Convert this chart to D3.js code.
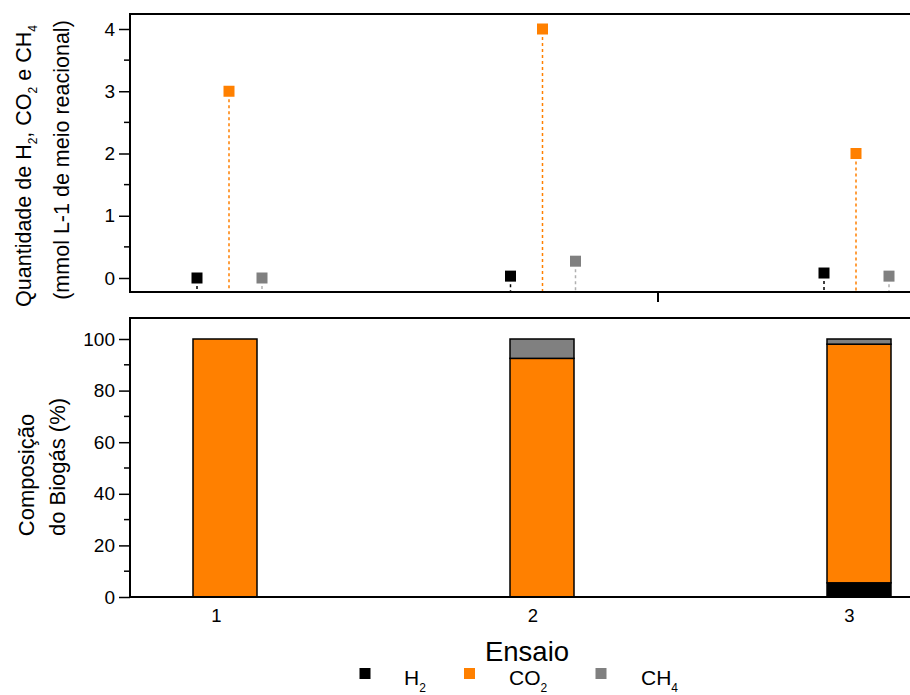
<!DOCTYPE html>
<html><head><meta charset="utf-8">
<script src="https://cdn.jsdelivr.net/npm/d3@7"></script>
<style>body{margin:0;background:#fff}svg{display:block;font-family:"Liberation Sans",Arial,sans-serif}</style>
</head><body>
<svg id="c" width="910" height="695"></svg>
<script>
const categories = [1, 2, 3];
const seriesNames = ["H2", "CO2", "CH4"];
const colors = {H2: "#000000", CO2: "#ff8000", CH4: "#808080"};
// Top panel: quantity (mmol L-1)
const qtyH2  = [0.0, 0.03, 0.08];
const qtyCO2 = [3.0, 4.0, 2.0];
const qtyCH4 = [0.0, 0.27, 0.03];
// Bottom panel: composition (%)
const compH2  = [0, 0, 5.5];
const compCO2 = [100, 92.5, 92.5];
const compCH4 = [0, 7.5, 2];
const topTicks = [0, 1, 2, 3, 4];
const botTicks = [0, 20, 40, 60, 80, 100];

const FF = "Liberation Sans, Arial, sans-serif";
const svg = d3.select("#c");
const L = 130, R = 912;

function styleAxis(g, size) {
  g.select(".domain").remove();
  g.selectAll("line").attr("stroke-width", 1.5);
  g.selectAll("text").attr("font-size", size).attr("font-family", FF);
}

// ---------- Top panel ----------
const tTop = 14, tBot = 292;
const yT = d3.scaleLinear().domain([0, 4]).range([278, 29]);
const xT = d3.scaleLinear().domain([1, 3]).range([229, 856]);
const offs = {H2: -32, CO2: 0, CH4: 33};
const qty = {H2: qtyH2, CO2: qtyCO2, CH4: qtyCH4};

const gT = svg.append("g");
gT.selectAll("line.mn").data(d3.range(0.5, 4, 1)).join("line")
  .attr("x1", L - 6).attr("x2", L).attr("y1", d => yT(d)).attr("y2", d => yT(d))
  .attr("stroke", "#000").attr("stroke-width", 1.5);
const axT = d3.axisLeft(yT).tickValues(topTicks).tickSize(11).tickPadding(4).tickFormat(d3.format("d"));
gT.append("g").attr("transform", `translate(${L},0)`).call(axT).call(g => styleAxis(g, 19));

seriesNames.forEach(s => {
  const pts = categories.map((c, i) => ({x: xT(c) + offs[s], v: qty[s][i]}));
  gT.selectAll(null).data(pts).join("line")
    .attr("x1", d => d.x).attr("x2", d => d.x)
    .attr("y1", d => yT(d.v) + 8).attr("y2", tBot)
    .attr("stroke", s === "CH4" ? "#b0b0b0" : colors[s]).attr("stroke-width", 1.5)
    .attr("stroke-dasharray", "3,3");
  gT.selectAll(null).data(pts).join("rect")
    .attr("x", d => d.x - 5.5).attr("y", d => yT(d.v) - 5.5)
    .attr("width", 11).attr("height", 11).attr("fill", colors[s]);
});
gT.append("path").attr("d", `M${R},${tTop}H${L}V${tBot}H${R}`)
  .attr("fill", "none").attr("stroke", "#000").attr("stroke-width", 2);
gT.append("line").attr("x1", 658).attr("x2", 658).attr("y1", tBot).attr("y2", 302)
  .attr("stroke", "#000").attr("stroke-width", 2);

const tt = gT.append("text").attr("transform", "translate(31,166) rotate(-90)")
  .attr("text-anchor", "middle").attr("font-size", 21.5);
tt.append("tspan").text("Quantidade de H");
tt.append("tspan").text("2").attr("font-size", 12).attr("dy", 6);
tt.append("tspan").text(", CO").attr("dy", -6);
tt.append("tspan").text("2").attr("font-size", 12).attr("dy", 6);
tt.append("tspan").text(" e CH").attr("dy", -6);
tt.append("tspan").text("4").attr("font-size", 12).attr("dy", 6);
gT.append("text").attr("transform", "translate(69,160) rotate(-90)")
  .attr("text-anchor", "middle").attr("font-size", 21.5).text("(mmol L-1 de meio reacional)");

// ---------- Bottom panel ----------
const bTop = 318, bBot = 597;
const yB = d3.scaleLinear().domain([0, 100]).range([597, 339]);
const xB = d3.scaleLinear().domain([1, 3]).range([225, 859]);
const xLab = d3.scaleLinear().domain([1, 3]).range([216, 849]);
const gB = svg.append("g");

gB.selectAll("line.mn").data(d3.range(10, 100, 20)).join("line")
  .attr("x1", L - 6).attr("x2", L).attr("y1", d => yB(d)).attr("y2", d => yB(d))
  .attr("stroke", "#000").attr("stroke-width", 1.5);
const axB = d3.axisLeft(yB).tickValues(botTicks).tickSize(11).tickPadding(4);
gB.append("g").attr("transform", `translate(${L},0)`).call(axB).call(g => styleAxis(g, 19));

const stackData = categories.map((c, i) => ({cat: c, H2: compH2[i], CO2: compCO2[i], CH4: compCH4[i]}));
const stack = d3.stack().keys(seriesNames)(stackData);
const bw = 64;
stack.forEach(layer => {
  gB.selectAll(null).data(layer.filter(d => d[1] - d[0] > 0)).join("rect")
    .attr("x", d => xB(d.data.cat) - bw / 2).attr("width", bw)
    .attr("y", d => yB(d[1])).attr("height", d => yB(d[0]) - yB(d[1]))
    .attr("fill", colors[layer.key]).attr("stroke", "#000").attr("stroke-width", 1.5);
});
gB.append("path").attr("d", `M${R},${bTop}H${L}V${bBot}H${R}`)
  .attr("fill", "none").attr("stroke", "#000").attr("stroke-width", 2);

const axX = d3.axisBottom(xLab).tickValues(categories).tickSize(0).tickPadding(12).tickFormat(d3.format("d"));
gB.append("g").attr("transform", `translate(0,${bBot})`).call(axX).call(g => styleAxis(g, 18.5));

gB.append("text").attr("transform", "translate(34,475) rotate(-90)")
  .attr("text-anchor", "middle").attr("font-size", 22).text("Composição");
gB.append("text").attr("transform", "translate(65,467) rotate(-90)")
  .attr("text-anchor", "middle").attr("font-size", 22).text("do Biogás (%)");

svg.append("text").attr("x", 527).attr("y", 661).attr("text-anchor", "middle")
  .attr("font-size", 27.5).text("Ensaio");

// ---------- Legend ----------
const legX = {H2: 365, CO2: 469.5, CH4: 601};
const legTX = {H2: 404, CO2: 509, CH4: 641};
const legT = {H2: ["H", "2"], CO2: ["CO", "2"], CH4: ["CH", "4"]};
seriesNames.forEach(s => {
  svg.append("rect").attr("x", legX[s] - 5.5).attr("y", 668).attr("width", 11).attr("height", 11)
    .attr("fill", colors[s]);
  const t = svg.append("text").attr("x", legTX[s]).attr("y", 685).attr("font-size", 21);
  t.append("tspan").text(legT[s][0]);
  t.append("tspan").text(legT[s][1]).attr("font-size", 12).attr("dy", 7);
});
</script>
</body></html>
